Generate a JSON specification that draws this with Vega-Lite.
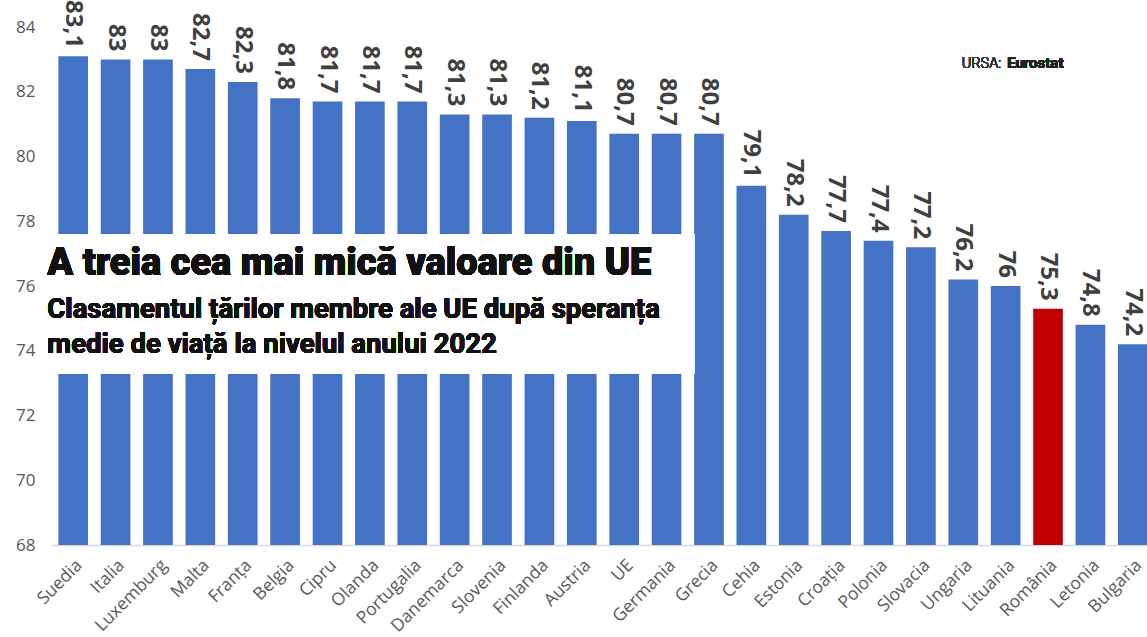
{
  "$schema": "https://vega.github.io/schema/vega-lite/v6.json",
  "width": 1102,
  "height": 518,
  "autosize": {"type": "none"},
  "padding": {"left": 52, "top": 27, "right": 0, "bottom": 92},
  "background": "white",
  "config": {"view": {"stroke": null}},
  "data": {"values": [
    {"tara": "Suedia", "valoare": 83.1, "eticheta": "83,1", "grup": "UE"},
    {"tara": "Italia", "valoare": 83.0, "eticheta": "83", "grup": "UE"},
    {"tara": "Luxemburg", "valoare": 83.0, "eticheta": "83", "grup": "UE"},
    {"tara": "Malta", "valoare": 82.7, "eticheta": "82,7", "grup": "UE"},
    {"tara": "Franța", "valoare": 82.3, "eticheta": "82,3", "grup": "UE"},
    {"tara": "Belgia", "valoare": 81.8, "eticheta": "81,8", "grup": "UE"},
    {"tara": "Cipru", "valoare": 81.7, "eticheta": "81,7", "grup": "UE"},
    {"tara": "Olanda", "valoare": 81.7, "eticheta": "81,7", "grup": "UE"},
    {"tara": "Portugalia", "valoare": 81.7, "eticheta": "81,7", "grup": "UE"},
    {"tara": "Danemarca", "valoare": 81.3, "eticheta": "81,3", "grup": "UE"},
    {"tara": "Slovenia", "valoare": 81.3, "eticheta": "81,3", "grup": "UE"},
    {"tara": "Finlanda", "valoare": 81.2, "eticheta": "81,2", "grup": "UE"},
    {"tara": "Austria", "valoare": 81.1, "eticheta": "81,1", "grup": "UE"},
    {"tara": "UE", "valoare": 80.7, "eticheta": "80,7", "grup": "UE"},
    {"tara": "Germania", "valoare": 80.7, "eticheta": "80,7", "grup": "UE"},
    {"tara": "Grecia", "valoare": 80.7, "eticheta": "80,7", "grup": "UE"},
    {"tara": "Cehia", "valoare": 79.1, "eticheta": "79,1", "grup": "UE"},
    {"tara": "Estonia", "valoare": 78.2, "eticheta": "78,2", "grup": "UE"},
    {"tara": "Croația", "valoare": 77.7, "eticheta": "77,7", "grup": "UE"},
    {"tara": "Polonia", "valoare": 77.4, "eticheta": "77,4", "grup": "UE"},
    {"tara": "Slovacia", "valoare": 77.2, "eticheta": "77,2", "grup": "UE"},
    {"tara": "Ungaria", "valoare": 76.2, "eticheta": "76,2", "grup": "UE"},
    {"tara": "Lituania", "valoare": 76.0, "eticheta": "76", "grup": "UE"},
    {"tara": "România", "valoare": 75.3, "eticheta": "75,3", "grup": "RO"},
    {"tara": "Letonia", "valoare": 74.8, "eticheta": "74,8", "grup": "UE"},
    {"tara": "Bulgaria", "valoare": 74.2, "eticheta": "74,2", "grup": "UE"}
  ]},
  "encoding": {
    "x": {
      "field": "tara", "type": "nominal", "sort": null,
      "scale": {"paddingInner": 0.3, "paddingOuter": 0.15},
      "axis": {
        "title": null, "labelAngle": -45, "labelAlign": "right", "labelBaseline": "top",
        "labelFont": "Open Sans", "labelFontSize": 17.5, "labelColor": "#595959",
        "labelPadding": 11, "ticks": false, "domainColor": "#d9d9d9", "domainWidth": 1.5,
        "labelOverlap": false
      }
    }
  },
  "layer": [
    {
      "mark": {"type": "bar"},
      "encoding": {
        "y": {
          "field": "valoare", "type": "quantitative",
          "scale": {"domain": [68, 84], "zero": false, "nice": false},
          "axis": {
            "title": null, "values": [68, 70, 72, 74, 76, 78, 80, 82, 84],
            "grid": false, "ticks": false, "domain": false,
            "labelFont": "Open Sans", "labelFontSize": 17, "labelColor": "#595959",
            "labelPadding": 17
          }
        },
        "y2": {"datum": 68},
        "color": {
          "field": "grup", "type": "nominal",
          "scale": {"domain": ["UE", "RO"], "range": ["#4472C4", "#C00000"]},
          "legend": null
        }
      }
    },
    {
      "mark": {
        "type": "text", "angle": 90, "align": "right", "baseline": "middle",
        "dx": -8, "font": "Open Sans", "fontWeight": "bold", "fontSize": 24,
        "color": "#404040"
      },
      "encoding": {
        "y": {"field": "valoare", "type": "quantitative"},
        "text": {"field": "eticheta"}
      }
    },
    {
      "mark": {"type": "rect", "color": "white"},
      "encoding": {
        "x": {"datum": "Suedia", "bandPosition": 0},
        "x2": {"datum": "Grecia", "bandPosition": 0},
        "y": {"datum": 73.3},
        "y2": {"datum": 77.6}
      }
    },
    {
      "mark": {
        "type": "text", "align": "left", "baseline": "alphabetic", "dx": -11,
        "font": "Roboto", "fontWeight": 900, "fontSize": 38,
        "color": "#111111"
      },
      "encoding": {
        "x": {"datum": "Suedia", "bandPosition": 0},
        "y": {"datum": 76.34},
        "text": {"value": "A treia cea mai mică valoare din UE"}
      }
    },
    {
      "mark": {
        "type": "text", "align": "left", "baseline": "alphabetic", "dx": -11,
        "font": "Roboto", "fontWeight": "bold", "fontSize": 27.5,
        "color": "#111111", "lineHeight": 35
      },
      "encoding": {
        "x": {"datum": "Suedia", "bandPosition": 0},
        "y": {"datum": 75.01},
        "text": {"value": ["Clasamentul țărilor membre ale UE după speranța", "medie de viață la nivelul anului 2022"]}
      }
    },
    {
      "mark": {
        "type": "text", "align": "left", "baseline": "alphabetic",
        "font": "Roboto", "fontWeight": 300, "fontSize": 14.5, "color": "#333333"
      },
      "encoding": {
        "x": {"datum": "Ungaria", "bandPosition": 0.45},
        "y": {"datum": 82.73},
        "text": {"value": "URSA:"}
      }
    },
    {
      "mark": {
        "type": "text", "align": "left", "baseline": "alphabetic",
        "font": "Roboto", "fontWeight": "bold", "fontSize": 15, "color": "#222222"
      },
      "encoding": {
        "x": {"datum": "Lituania", "bandPosition": 0.55},
        "y": {"datum": 82.73},
        "text": {"value": "Eurostat"}
      }
    }
  ]
}
